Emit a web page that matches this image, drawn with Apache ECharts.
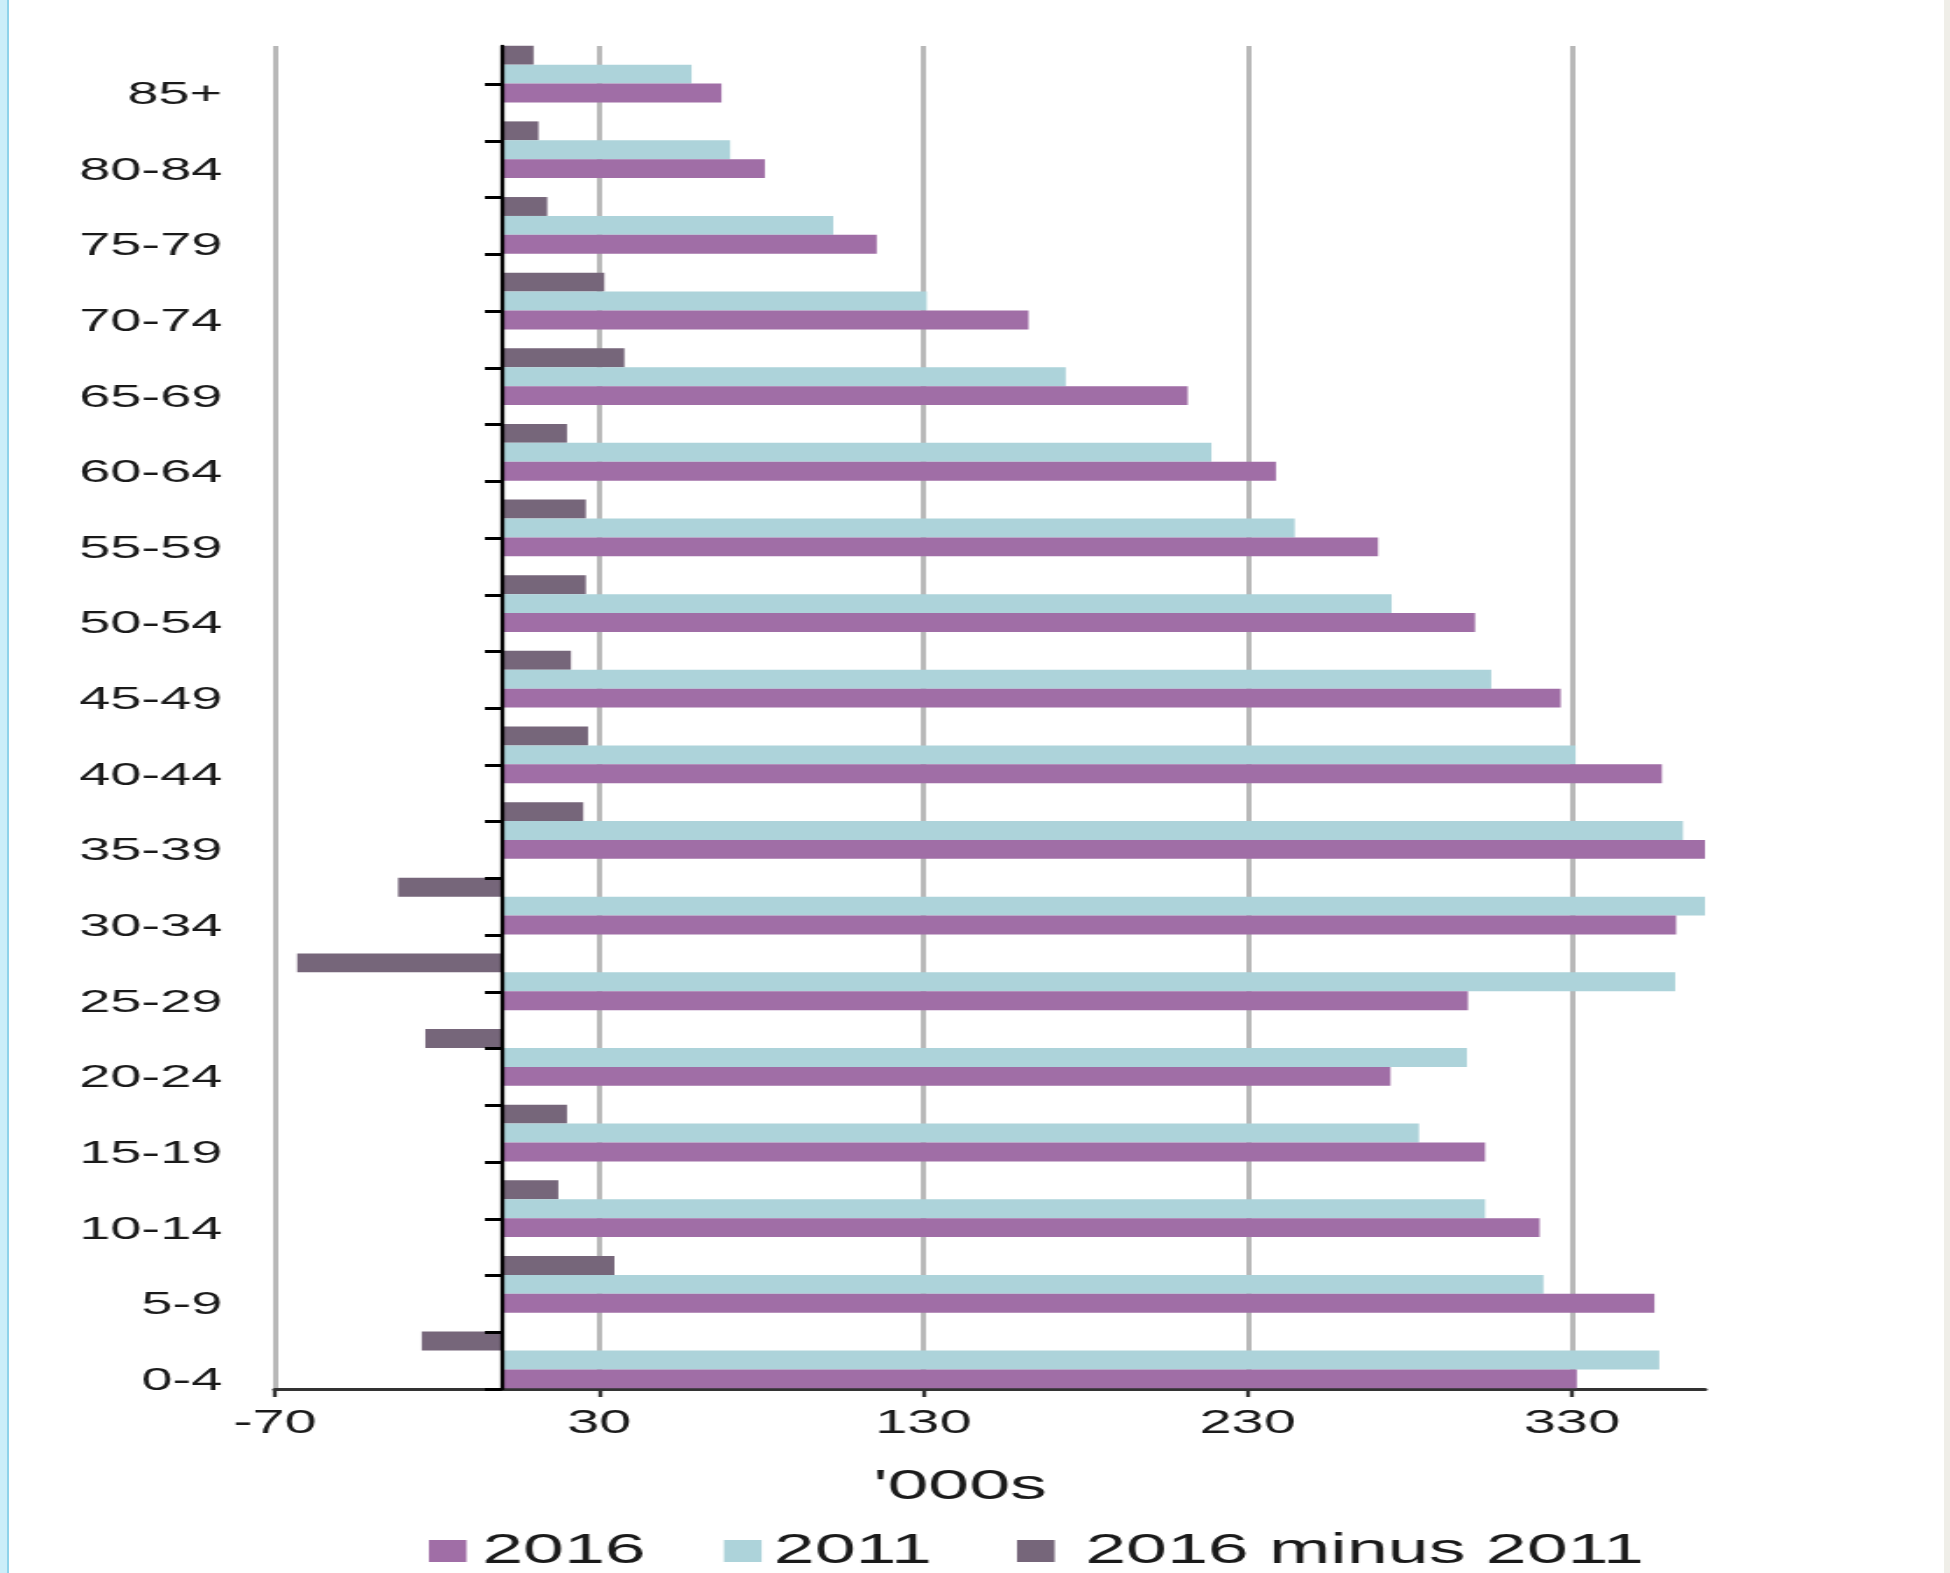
<!DOCTYPE html>
<html>
<head>
<meta charset="utf-8">
<script src="https://cdn.jsdelivr.net/npm/echarts@6/dist/echarts.min.js"></script>
<style>
  html, body { margin: 0; padding: 0; background: #fff; }
  body { width: 1950px; height: 1573px; position: relative; overflow: hidden; }
  /* the chart is laid out narrow and widened to full width */
  #chart { position: absolute; left: 0; top: 0; width: 1114px; height: 1573px;
           transform: scaleX(1.75045); transform-origin: 0 0; }
  .edge-left { position: absolute; left: 0; top: 0; width: 7px; height: 1573px; background: #cbeef9; }
  .edge-line { position: absolute; left: 7px; top: 0; width: 2px; height: 1573px; background: #8fd3ea; }
  .edge-right { position: absolute; right: 0; top: 0; width: 6px; height: 1573px; background: #efeee8; }
</style>
</head>
<body>
<div id="chart"></div>
<div class="edge-left"></div><div class="edge-line"></div><div class="edge-right"></div>
<script>
// Age groups, bottom to top
const ageGroups = ['0-4', '5-9', '10-14', '15-19', '20-24', '25-29', '30-34', '35-39', '40-44',
                   '45-49', '50-54', '55-59', '60-64', '65-69', '70-74', '75-79', '80-84', '85+'];
// Population in thousands
const pop2016 = [331.5, 355.4, 320.0, 303.2, 274.0, 297.9, 362.1, 389.0, 357.7,
                 326.5, 300.1, 270.2, 238.7, 211.5, 162.4, 115.6, 81.1, 67.7];
const pop2011 = [356.9, 321.2, 303.2, 282.8, 297.6, 361.8, 394.0, 364.2, 331.1,
                 305.1, 274.4, 244.5, 218.8, 173.9, 131.0, 102.2, 70.4, 58.5];
const change = [-24.7, 34.7, 17.4, 20.1, -23.6, -63.1, -32.0, 25.1, 26.6,
                21.3, 25.9, 25.9, 20.1, 37.8, 31.6, 14.0, 11.3, 9.8];
// Value-axis tick positions
const xTicks = [-70, 30, 130, 230, 330];
// Tick marks along the zero line
const zeroLineTicks = [0, 1, 2, 3, 4, 5, 6, 7, 8, 9, 10, 11, 12, 13, 14, 15, 16, 17, 18, 19, 20, 21, 22, 23];

const FONT = '"Liberation Sans", Arial, Helvetica, sans-serif';
const TEXT = '#1a1a1a';
const COLORS = { y2016: '#a06ea6', y2011: '#add3da', diff: '#76667a' };

const chart = echarts.init(document.getElementById('chart'), null, { renderer: 'canvas' });

function legendFor(name, left, gap) {
  return {
    data: [name], left: left, top: 1530, padding: 0, icon: 'rect',
    itemWidth: 21.5, itemHeight: 22, selectedMode: false,
    textStyle: { fontSize: 42, color: TEXT, fontFamily: FONT, padding: [0, 0, 0, gap] }
  };
}

const barBase = { type: 'bar', xAxisIndex: 1, yAxisIndex: 1, barGap: '0%', barCategoryGap: '25%', clip: true };

chart.setOption({
  animation: false,
  backgroundColor: '#ffffff',
  grid: [
    { left: 157, right: 140, top: 46, bottom: 184 },
    { left: 157, right: 140, top: 36.3, bottom: 175.2 }
  ],
  xAxis: [
    {
      gridIndex: 0, type: 'value', min: -70, max: 371, interval: 100,
      axisLine: { show: true, onZero: false, lineStyle: { color: '#333', width: 3 } },
      axisTick: { show: true, customValues: xTicks, length: 8, lineStyle: { color: '#333', width: 2.3 } },
      axisLabel: { customValues: xTicks, margin: 18, fontSize: 33, color: TEXT, fontFamily: FONT },
      splitLine: { show: true, lineStyle: { color: '#b8b8b8', width: 3 } },
      name: "'000s", nameLocation: 'middle', nameGap: 77,
      nameTextStyle: { fontSize: 42, color: TEXT, fontFamily: FONT, padding: [0, 34, 0, 0] }
    },
    { gridIndex: 1, type: 'value', min: -70, max: 371, show: false }
  ],
  yAxis: [
    {
      gridIndex: 0, type: 'value', min: 0, max: 23.674, z: 5,
      axisLine: { show: true, onZero: true, lineStyle: { color: '#000', width: 2.3 } },
      axisTick: { show: true, customValues: zeroLineTicks, length: 9.7, lineStyle: { color: '#000', width: 3 } },
      axisLabel: { show: false },
      splitLine: { show: false }
    },
    {
      gridIndex: 1, type: 'category', data: ageGroups,
      axisLine: { show: false, onZero: false },
      axisTick: { show: false },
      axisLabel: { margin: 30, fontSize: 32, color: TEXT, fontFamily: FONT,
                   verticalAlign: 'top', lineHeight: 42 },
      splitLine: { show: false }
    }
  ],
  legend: [
    legendFor('2016', 245, 4),
    legendFor('2011', 413.6, 2),
    legendFor('2016 minus 2011', 581, 12.5)
  ],
  // listed top-down within each group: change, 2011, 2016
  series: [
    Object.assign({ name: '2016 minus 2011', data: change, itemStyle: { color: COLORS.diff } }, barBase),
    Object.assign({ name: '2011', data: pop2011, itemStyle: { color: COLORS.y2011 } }, barBase),
    Object.assign({ name: '2016', data: pop2016, itemStyle: { color: COLORS.y2016 } }, barBase)
  ]
});
</script>
</body>
</html>
